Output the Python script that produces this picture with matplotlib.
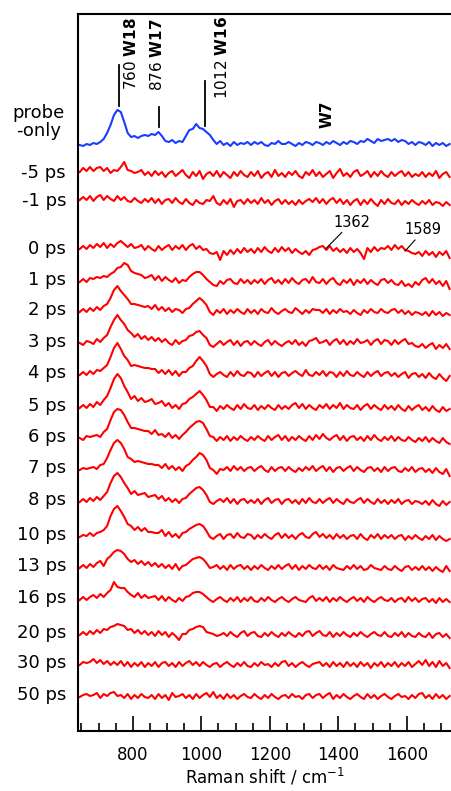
import numpy as np
import matplotlib.pyplot as plt

plt.rcParams['font.family'] = 'DejaVu Sans'
plt.rcParams['mathtext.fontset'] = 'dejavusans'

# raman shift grid (cm-1)
shift = np.arange(645, 1726, 10)

# probe-only spectrum
probe = [1, 0, 2, 1, 3, 2, 4, 7, 13, 21,
         31, 36, 34, 24, 13, 9, 10, 8, 10, 11,
         10, 12, 11, 14, 10, 5, 4, 6, 3, 5,
         4, 10, 16, 17, 22, 18, 17, 14, 11, 6,
         2, 5, 1, 3, 0, 4, 1, 3, 2, 4,
         1, 4, 2, 4, 1, 0, 3, 2, 5, 2,
         2, 4, 2, 0, 3, 1, 4, 3, 1, 4,
         3, 1, 4, 2, 5, 3, 1, 4, 2, 5,
         4, 2, 5, 4, 7, 5, 3, 7, 5, 6,
         7, 5, 7, 4, 6, 5, 2, 4, 1, 4,
         3, 1, 4, 0, 3, 1, 3, 0, 2]

# time-resolved spectra
m5ps = [3, 7, 4, 8, 4, 7, 8, 4, 7, 2,
        5, 4, 8, 13, 5, 4, 2, 3, 5, 0,
        3, -1, 4, 0, 3, -2, 2, 4, -1, 2,
        5, 0, -3, 3, -1, 4, -4, 1, 3, -1,
        4, -2, 3, 0, -3, 3, -1, 4, 0, -2,
        3, -1, 4, -3, 1, 3, -2, 5, -1, 2,
        -2, 3, 0, 4, -1, -3, 3, 0, 5, -1,
        3, -2, 1, 4, -3, 2, 6, -1, 2, -2,
        3, 5, -1, 1, 4, -2, 3, -1, 4, 0,
        -2, 3, -1, 2, 4, -1, 3, -2, 1, -1,
        3, -2, 2, -1, 4, -3, 1, 3, -2]
m1ps = [3, 6, 3, 7, 2, 6, 8, 3, 7, 4,
        2, 7, 3, 6, 2, 1, 5, 2, 0, 4,
        1, 5, 0, 4, -1, 3, 4, 0, 5, 1,
        -1, 4, 0, -2, 3, 0, -1, 3, 2, 7,
        0, -2, 3, -1, 4, -4, 2, 3, -1, 4,
        0, 3, -1, 5, 0, 3, -2, 2, 4, -1,
        3, -1, 2, -2, 3, -1, 2, 4, 1, 5,
        0, 4, -1, 3, 5, 0, 4, -1, 3, -2,
        2, 4, -2, 3, -1, 4, 0, -3, 3, -1,
        4, 0, -1, 3, -2, 2, -1, 3, 0, -2,
        2, -1, 3, -2, 1, 0, -3, 1, -2]
p0ps = [2, 5, 2, 6, 3, 7, 4, 8, 3, 7,
        4, 8, 10, 7, 4, 7, 3, 4, 6, 1,
        5, 2, 0, 5, 1, 4, 6, 1, 5, 2,
        6, 1, 5, 7, 2, 5, 1, 2, -2, -3,
        -1, -9, 0, -4, 1, -3, 2, -2, 3, -1,
        2, -2, 3, -1, 4, 0, -2, 3, -1, 4,
        0, 3, -2, 2, -1, -3, 0, -4, 1, 2,
        4, 5, 1, 5, 0, 3, -1, 2, -2, 3,
        -1, 2, -2, -8, 3, -1, 4, 0, 3, 2,
        5, 1, 6, 2, 5, 1, 0, -2, -3, -1,
        -5, 0, -4, -1, -6, -1, -4, 0, -7]
p1ps = [0, 3, 0, 4, 3, 5, 4, 6, 5, 8,
        10, 14, 15, 19, 17, 11, 9, 8, 7, 4,
        5, 7, 2, 6, 1, 5, 2, 0, 4, -1,
        2, 1, 5, 8, 10, 10, 7, 3, 0, -3,
        -4, 1, -2, 2, 3, -1, -2, 3, -1, 2,
        -2, 2, -1, 3, -2, 2, 4, -1, 2, -2,
        3, -1, 4, 0, -2, 2, 3, -1, 5, 0,
        -1, 3, -2, 2, 4, -1, -3, 2, -1, 3,
        -3, 2, -1, 3, -2, 2, -1, -3, 2, 3,
        -1, 2, -2, -3, 1, -4, -2, -5, 0, -3,
        2, 4, -1, 3, -2, 1, -4, 1, -7]
p2ps = [0, 3, 0, 4, 1, 5, 2, 6, 8, 14,
        22, 26, 21, 17, 13, 8, 8, 7, 6, 5,
        6, 3, 7, 2, 5, 1, 4, 0, 3, 2,
        -1, 3, 4, 8, 11, 14, 11, 7, 0, -3,
        2, -1, 3, -2, 2, -1, 3, 0, -2, 3,
        -1, 2, -2, 3, 0, -1, 4, 0, -2, 1,
        3, 0, -1, 4, 1, -2, 2, -1, 3, 2,
        2, -1, 3, -2, 2, -1, 3, 0, 1, -2,
        2, -1, -3, 2, -1, 3, 0, -1, 3, 0,
        -1, 2, 3, -1, 2, -2, 1, -3, 0, -1,
        -3, 0, -4, 1, -3, 0, -4, -1, -3]
p3ps = [1, -1, 3, 2, 0, 5, 2, 6, 9, 17,
        24, 29, 24, 20, 14, 11, 7, 10, 5, 8,
        4, 7, 3, 6, 2, 5, 1, -1, 4, 0,
        3, 4, 8, 9, 12, 13, 9, 6, -1, -3,
        0, 3, -1, 2, 4, -1, 3, -2, 2, 3,
        -1, 3, 0, -2, 2, 4, -1, 3, 0, -2,
        1, 3, 0, 4, -1, 2, -2, 3, 4, 6,
        1, 2, 4, -1, 3, 5, 0, 4, -1, 3,
        0, 5, 1, 2, 4, -1, 3, 5, 0, 4,
        3, -1, 4, 0, 3, 5, 0, 1, -2, -3,
        0, -4, -1, 1, -5, -1, -4, 0, -5]
p4ps = [0, 3, 0, 4, 1, 5, 4, 7, 10, 18,
        27, 32, 26, 19, 15, 9, 10, 9, 8, 7,
        7, 6, 6, 2, 5, 1, 5, 0, 4, -1,
        3, 3, 7, 9, 14, 18, 14, 9, 1, -2,
        1, 3, 0, -2, 3, -1, 4, 0, -1, 3,
        2, -2, 3, -1, 2, 4, -1, 3, -2, 2,
        3, -1, 2, 4, 1, -1, 5, 0, -1, 3,
        0, 4, -1, 3, 2, -2, 3, -1, 4, 0,
        -1, 3, 0, -2, 3, -1, 2, 4, -1, 2,
        3, -1, 2, -2, 1, 3, -3, 1, 2, -2,
        1, -3, 2, -2, -4, 1, -3, -6, -1]
p5ps = [0, 3, 0, 4, 1, 6, 3, 8, 12, 20,
        29, 34, 30, 22, 16, 9, 12, 7, 10, 6,
        7, 9, 4, 5, 7, 2, 5, 0, 3, -1,
        4, 5, 9, 11, 14, 17, 13, 8, 1, 1,
        -3, 2, -1, 3, 0, -2, 3, -1, 4, 0,
        -1, 3, -2, 2, -1, 3, 0, -2, 3, -1,
        2, -1, 3, 5, 0, 4, -1, 3, 0, -2,
        3, 0, 4, -1, 3, 0, 5, -1, 3, 0,
        -1, 3, -2, 2, 4, -1, 3, 0, -2, 3,
        -1, 2, -2, 3, -1, -3, 2, -2, 1, 3,
        -2, 1, -3, 2, -2, -4, 1, -3, -1]
p6ps = [1, -1, 3, 2, 3, 4, 2, 7, 10, 19,
        27, 30, 29, 24, 17, 11, 11, 10, 9, 8,
        8, 5, 9, 4, 5, 2, 6, 1, 4, 0,
        4, 7, 11, 14, 17, 18, 16, 10, 3, 2,
        -2, 2, -1, 3, -2, 2, -1, 3, 0, -2,
        2, -1, 3, 0, -2, 3, -1, 2, 4, -1,
        3, -2, 2, -1, 3, 0, -2, 3, -1, 4,
        0, 5, 1, -1, 2, 4, -1, 3, -2, 2,
        3, -1, 2, -2, 3, -1, 4, 0, -2, 2,
        -1, 3, -2, 2, -1, -2, 2, -1, -3, 1,
        -2, 2, -3, 1, -2, -4, 1, -3, -5]
p7ps = [0, 2, 1, 2, 3, 1, 5, 6, 12, 20,
        27, 30, 27, 21, 13, 11, 8, 9, 8, 7,
        6, 6, 5, 5, 2, 6, 1, 4, 0, 3,
        -1, 4, 6, 10, 13, 17, 15, 10, 2, 0,
        -4, 1, 0, 3, -1, 4, 0, 3, -1, 2,
        3, -1, 2, 4, 0, -2, 3, -1, 2, 3,
        -1, 3, 0, -2, 2, -1, 3, 0, 4, -1,
        2, 4, -1, 3, -2, 2, 3, -1, 2, 4,
        -1, 3, 0, -2, 2, 3, -1, 2, -2, 3,
        -1, 2, 3, -1, -2, 2, -1, 3, -2, 1,
        2, -2, 1, -3, 2, -2, -4, 1, -6]
p8ps = [0, 3, 0, 4, 1, 5, 2, 6, 10, 19,
        26, 29, 25, 19, 14, 8, 11, 7, 8, 9,
        5, 6, 7, 3, 6, 1, 4, 0, 3, -1,
        3, 4, 8, 11, 14, 15, 12, 7, 0, -2,
        1, 3, 0, 4, -1, 3, -2, 2, 3, -1,
        2, -1, 3, -2, 2, 4, -1, 2, 3, -2,
        2, 3, -1, 2, -2, 3, -1, 4, 0, -1,
        3, -1, 2, 4, -1, 3, 0, -2, 3, 0,
        -1, 2, 4, -1, 3, 0, -2, 3, -1, 2,
        -2, 2, -1, 3, -2, 1, 2, -2, 1, 0,
        -2, 1, -3, 2, -2, -4, 1, -3, 0]
p10ps = [0, 2, 1, 4, 1, 4, 5, 7, 11, 21,
         28, 31, 26, 20, 13, 11, 7, 10, 6, 9,
         5, 5, 4, 4, 7, 1, 5, 0, 3, -1,
         4, 5, 8, 10, 12, 13, 11, 6, 0, -2,
         1, 3, -2, 2, 3, -1, 4, 0, -1, 3,
         2, -2, 2, -1, 3, 0, -2, 2, 4, -1,
         3, -1, 2, -2, 2, 4, 0, -1, 3, 5,
         0, 3, -1, 2, -2, 3, -1, 2, -2, 1,
         2, -2, 3, -1, -3, 2, -1, 3, -2, 2,
         -1, 2, -2, 1, 2, -3, 1, -2, 2, -1,
         -3, 1, -2, 2, -3, 1, -2, -4, -2]
p13ps = [0, 3, 0, 4, 1, 5, 7, 2, 9, 12,
         16, 18, 17, 14, 9, 6, 8, 4, 7, 3,
         6, 2, 5, 1, 4, 0, 3, -1, 4, -2,
         2, 3, 6, 9, 10, 11, 9, 5, 0, 1,
         3, -1, 2, -2, 3, -1, 2, 3, -1, 2,
         -2, 2, -1, 3, 0, -2, 2, -1, 3, -1,
         2, 4, -1, 3, -2, 2, -1, 3, 0, -1,
         3, -1, 2, -2, 3, 0, -1, -2, 2, -1,
         3, -1, 2, -2, -1, 3, 0, -1, -2, 2,
         -1, -2, 2, -1, -3, 1, 2, -2, 1, -2,
         2, -2, 1, -3, 1, -2, -4, 2, -3]
p16ps = [0, 3, 0, 3, 5, 2, 6, 3, 7, 10,
         18, 13, 12, 12, 8, 5, 3, 7, 2, 5,
         2, 3, 4, 0, 4, -1, 3, 0, -2, 2,
         -1, 3, 4, 7, 8, 8, 6, 3, 0, -2,
         1, 3, 0, -2, 2, -1, 3, -2, 2, -1,
         3, -1, -2, 2, -1, 3, 0, -2, 1, 3,
         0, -2, 1, 3, 0, -1, -2, 2, 4, -1,
         2, -1, 3, -2, 2, -1, 3, 0, -2, 1,
         3, -1, 2, -2, 3, 0, -2, 1, 3, 0,
         -1, 2, -2, 1, 2, -2, 3, -1, 2, -2,
         1, 2, -2, 1, -3, 2, -2, 1, -2]
p20ps = [0, 3, 0, 4, 1, 5, 2, 6, 5, 8,
         9, 11, 10, 9, 5, 6, 2, 5, 1, 4,
         0, 3, -1, 4, 0, 3, -2, 2, -1, -5,
         1, 1, 5, 6, 8, 9, 8, 3, 2, 1,
         -1, 0, 2, -1, 3, 0, -2, 2, 4, -1,
         2, 3, -1, -2, 2, -1, 3, 0, -2, 2,
         -1, 3, 0, -2, 2, -1, 3, 4, -1, 2,
         4, 0, -1, 3, -2, 2, -1, 3, 0, -2,
         2, -1, 3, 0, -2, 1, 3, 0, -1, 3,
         -1, -2, 2, -1, 3, -2, 2, -1, -2, 2,
         -1, -2, 2, -3, 1, 2, -2, 1, -3]
p30ps = [0, 3, 2, 3, 6, 2, 5, 1, 4, 0,
         3, 0, 4, -1, 3, -2, 2, -1, 3, -2,
         2, -1, 3, -2, 2, 3, -1, 2, -2, 3,
         -1, 2, 4, 0, 3, -1, 3, 0, -2, 1,
         2, -2, 1, 3, 0, -2, 2, -1, 3, -1,
         -2, 2, -1, 3, 0, 1, -2, 2, -1, 3,
         4, -1, 2, -2, 1, 3, 0, -2, 1, 2,
         3, -1, 2, -2, 3, -1, 2, -2, 3, -1,
         2, -2, 3, -1, 2, -3, 2, -1, 3, -2,
         2, -1, 3, -2, 2, -1, 3, -2, 1, 4,
         0, 5, -1, 3, -2, 4, -1, 2, -3]
p50ps = [0, 2, 3, 1, 2, 4, -1, 3, 1, 4,
         5, 1, 2, -1, 3, -2, 2, -1, 3, 0,
         -1, 2, -2, 3, -1, 2, -3, 4, 0, 1,
         3, -1, 2, -2, 3, -1, 2, 4, 0, 5,
         -1, 2, -2, 3, -1, 2, -2, 1, 3, 0,
         -1, 3, 0, -2, 2, -1, 3, 0, -2, 1,
         2, -1, 3, 0, 1, -2, 2, 3, -1, 2,
         3, -1, 2, 4, -2, 2, -1, 3, 0, -2,
         1, 3, 0, -2, 3, -1, 2, -2, 1, 3,
         0, -2, 1, 3, 0, 1, -2, 2, -1, 3,
         4, -1, 2, -2, 3, -1, 2, -2, 1]

spectra = [m5ps, m1ps, p0ps, p1ps, p2ps, p3ps, p4ps, p5ps, p6ps, p7ps,
           p8ps, p10ps, p13ps, p16ps, p20ps, p30ps, p50ps]
delays = ["-5 ps", "-1 ps", "0 ps", "1 ps", "2 ps", "3 ps", "4 ps", "5 ps", "6 ps",
          "7 ps", "8 ps", "10 ps", "13 ps", "16 ps", "20 ps", "30 ps", "50 ps"]

# vertical offsets of each trace
probe_off = 584.5
offsets = [555.5, 527.5, 479.5, 448.5, 418.5, 386.5, 355.5, 322.5, 291.5,
           260.5, 228.5, 193.5, 162.5, 130.5, 95.5, 65.5, 33.5]

fig = plt.figure(figsize=(4.51, 7.91), dpi=100)
ax = fig.add_axes([78/451, 60.5/791, 373/451, 716.5/791])

ax.plot(shift, np.array(probe) + probe_off, color="#1a3cff", lw=1.5)
for sp, off in zip(spectra, offsets):
    ax.plot(shift, np.array(sp) + off, color="red", lw=1.5)

tr = ax.get_yaxis_transform()
ax.text(-0.035, probe_off + 24, "probe\n-only", transform=tr, ha="right", va="center",
        fontsize=13, multialignment="center", linespacing=1.0)
for lab, off in zip(delays, offsets):
    ax.text(-0.032, off + 2, lab, transform=tr, ha="right", va="center", fontsize=13)

# band markers
ax.plot([760, 760], [624.5, 665.5], color="k", lw=1.3)
ax.plot([876, 876], [603.5, 623.5], color="k", lw=1.3)
ax.plot([1012, 1012], [604.5, 649.5], color="k", lw=1.3)
ax.text(794, 640.5, r"760 $\mathbf{W18}$", rotation=90, ha="center", va="bottom", fontsize=11)
ax.text(871, 640, r"876 $\mathbf{W17}$", rotation=90, ha="center", va="bottom", fontsize=11)
ax.text(1060, 631.5, r"1012 $\mathbf{W16}$", rotation=90, ha="center", va="bottom", fontsize=11)
ax.text(1366, 616.5, "W7", rotation=90, ha="center", va="center", fontsize=11, fontweight="bold")

ax.plot([1364, 1410], [482, 498], color="k", lw=0.8)
ax.text(1440, 508, "1362", ha="center", va="center", fontsize=10.5)
ax.plot([1595, 1624], [479.5, 490.5], color="k", lw=0.8)
ax.text(1647, 500.5, "1589", ha="center", va="center", fontsize=10.5)

ax.set_xlim(640, 1729)
ax.set_ylim(0, 716.5)
ax.set_yticks([])
ax.set_xticks([800, 1000, 1200, 1400, 1600])
ax.set_xticks(np.arange(650, 1729, 50), minor=True)
ax.tick_params(axis="x", which="major", direction="in", length=11, width=1.2, labelsize=12, pad=11)
ax.tick_params(axis="x", which="minor", direction="in", length=5.5, width=1.2)
ax.spines["right"].set_visible(False)
for s in ["left", "top", "bottom"]:
    ax.spines[s].set_linewidth(1.5)
ax.set_xlabel("Raman shift / cm$^{-1}$", fontsize=12, labelpad=2)

fig.savefig("out.png", dpi=100)
